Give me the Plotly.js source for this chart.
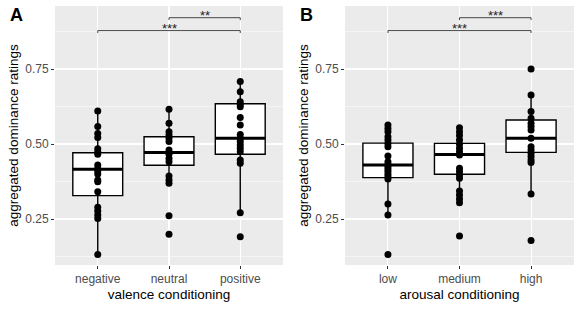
<!DOCTYPE html>
<html>
<head>
<meta charset="utf-8">
<script src="https://cdn.plot.ly/plotly-3.0.1.min.js"></script>
<style>html,body{margin:0;padding:0;background:#fff}#chart{width:581px;height:309px}</style>
</head>
<body>
<div id="chart"></div>
<script>
// ---- data ----
const valenceCats = ["negative", "neutral", "positive"];
const arousalCats = ["low", "medium", "high"];

const negativePts = [0.61, 0.558, 0.535, 0.522, 0.484, 0.474, 0.466, 0.43, 0.418, 0.41, 0.40, 0.38, 0.374, 0.341, 0.289, 0.277, 0.263, 0.252, 0.132];
const neutralPts  = [0.616, 0.569, 0.541, 0.53, 0.519, 0.508, 0.48, 0.466, 0.452, 0.441, 0.393, 0.38, 0.369, 0.261, 0.199];
const positivePts = [0.708, 0.674, 0.641, 0.632, 0.624, 0.588, 0.563, 0.532, 0.519, 0.508, 0.497, 0.486, 0.474, 0.447, 0.436, 0.271, 0.191];
const lowPts      = [0.563, 0.552, 0.541, 0.524, 0.513, 0.502, 0.491, 0.46, 0.441, 0.432, 0.424, 0.417, 0.408, 0.399, 0.391, 0.383, 0.30, 0.263, 0.132];
const mediumPts   = [0.554, 0.541, 0.528, 0.513, 0.499, 0.486, 0.474, 0.463, 0.419, 0.408, 0.397, 0.386, 0.343, 0.33, 0.317, 0.304, 0.193];
const highPts     = [0.75, 0.663, 0.608, 0.586, 0.569, 0.558, 0.547, 0.519, 0.491, 0.48, 0.469, 0.458, 0.447, 0.438, 0.333, 0.178];

// box statistics (valence / arousal)
const valQ1 = [0.328, 0.429, 0.466], valMed = [0.416, 0.472, 0.519], valQ3 = [0.471, 0.524, 0.634];
const valLo = [0.132, 0.369, 0.271], valHi = [0.61, 0.616, 0.708];
const arQ1 = [0.388, 0.399, 0.472], arMed = [0.43, 0.465, 0.519], arQ3 = [0.503, 0.502, 0.58];
const arLo = [0.263, 0.304, 0.333], arHi = [0.563, 0.554, 0.663];

// significance comparisons: [from, to, label, y]
const valSig = [["negative", "positive", "***", 0.878], ["neutral", "positive", "**", 0.921]];
const arSig  = [["low", "high", "***", 0.878], ["medium", "high", "***", 0.921]];

// ---- build ----
const BOXW = 0.7;
const traces = [];
const shapes = [];
const annotations = [];

function panel(cats, groups, q1, med, q3, lo, hi, sig, xa, ya) {
  traces.push({
    type: "box", x: cats, q1: q1, median: med, q3: q3, lowerfence: lo, upperfence: hi,
    xaxis: xa, yaxis: ya, width: BOXW, whiskerwidth: 0, boxpoints: false,
    fillcolor: "#ffffff", line: {color: "#000000", width: 1.4}, hoverinfo: "skip", showlegend: false
  });
  groups.forEach((pts, i) => {
    traces.push({
      type: "scatter", mode: "markers", x: pts.map(() => cats[i]), y: pts,
      xaxis: xa, yaxis: ya, marker: {color: "#000000", size: 7}, showlegend: false, hoverinfo: "skip"
    });
  });
  const xr = xa === "x" ? "x" : "x2", yr = ya === "y" ? "y" : "y2";
  med.forEach((m, i) => {
    shapes.push({type: "line", xref: xr, yref: yr, x0: i - BOXW / 2, x1: i + BOXW / 2, y0: m, y1: m,
      line: {color: "#000000", width: 3}});
  });
  sig.forEach(s => {
    const a = cats.indexOf(s[0]), b = cats.indexOf(s[1]), yv = s[3];
    traces.push({
      type: "scatter", mode: "lines", x: [s[0], s[0], s[1], s[1]], y: [yv - 0.008, yv, yv, yv - 0.008],
      xaxis: xa, yaxis: ya, line: {color: "#333333", width: 0.9}, showlegend: false, hoverinfo: "skip"
    });
    annotations.push({xref: xr, yref: yr, x: (a + b) / 2, y: yv + 0.006, text: s[2], showarrow: false,
      xanchor: "center", yanchor: "middle", font: {size: 13, color: "#222222"}});
  });
}

panel(valenceCats, [negativePts, neutralPts, positivePts], valQ1, valMed, valQ3, valLo, valHi, valSig, "x", "y");
panel(arousalCats, [lowPts, mediumPts, highPts], arQ1, arMed, arQ3, arLo, arHi, arSig, "x2", "y2");

annotations.push({xref: "paper", yref: "paper", x: 8 / 581, y: 1 - 15 / 309, xanchor: "left", yanchor: "middle",
  text: "<b>A</b>", showarrow: false, font: {size: 18, color: "#000"}});
annotations.push({xref: "paper", yref: "paper", x: 298 / 581, y: 1 - 15 / 309, xanchor: "left", yanchor: "middle",
  text: "<b>B</b>", showarrow: false, font: {size: 18, color: "#000"}});

function xaxis(domain, title) {
  return {
    domain: domain, type: "category", range: [-0.6, 2.6], showgrid: true, gridcolor: "#ffffff", gridwidth: 1.1,
    zeroline: false, showline: false, ticks: "outside", ticklen: 3, tickcolor: "#333333", tickwidth: 1,
    tickfont: {size: 12, color: "#4D4D4D"}, fixedrange: true,
    title: {text: title, font: {size: 13.5, color: "#000000"}, standoff: 4}
  };
}
function yaxis(anchor, title) {
  return {
    anchor: anchor, domain: [44 / 309, 303 / 309], range: [0.0967, 0.96], tick0: 0, dtick: 0.25, tickformat: ".2f",
    showgrid: true, gridcolor: "#ffffff", gridwidth: 1.1, zeroline: false, showline: false,
    minor: {tick0: 0, dtick: 0.125, showgrid: true, gridcolor: "#ffffff", gridwidth: 0.5, ticks: ""},
    ticks: "outside", ticklen: 3, tickcolor: "#333333", tickwidth: 1,
    tickfont: {size: 12, color: "#4D4D4D"}, fixedrange: true,
    title: {text: title, font: {size: 13.5, color: "#000000"}, standoff: 3}
  };
}

const layout = {
  width: 581, height: 309, margin: {l: 0, r: 0, t: 0, b: 0},
  paper_bgcolor: "#ffffff", plot_bgcolor: "#EBEBEB",
  font: {family: "Liberation Sans, Arial, sans-serif"},
  showlegend: false,
  xaxis: Object.assign(xaxis([55 / 581, 283 / 581], "valence conditioning"), {anchor: "y"}),
  yaxis: yaxis("x", "aggregated dominance ratings"),
  xaxis2: Object.assign(xaxis([345 / 581, 574 / 581], "arousal conditioning"), {anchor: "y2"}),
  yaxis2: yaxis("x2", "aggregated dominance ratings"),
  shapes: shapes, annotations: annotations
};

Plotly.newPlot("chart", traces, layout, {staticPlot: true, displayModeBar: false});
</script>
</body>
</html>
